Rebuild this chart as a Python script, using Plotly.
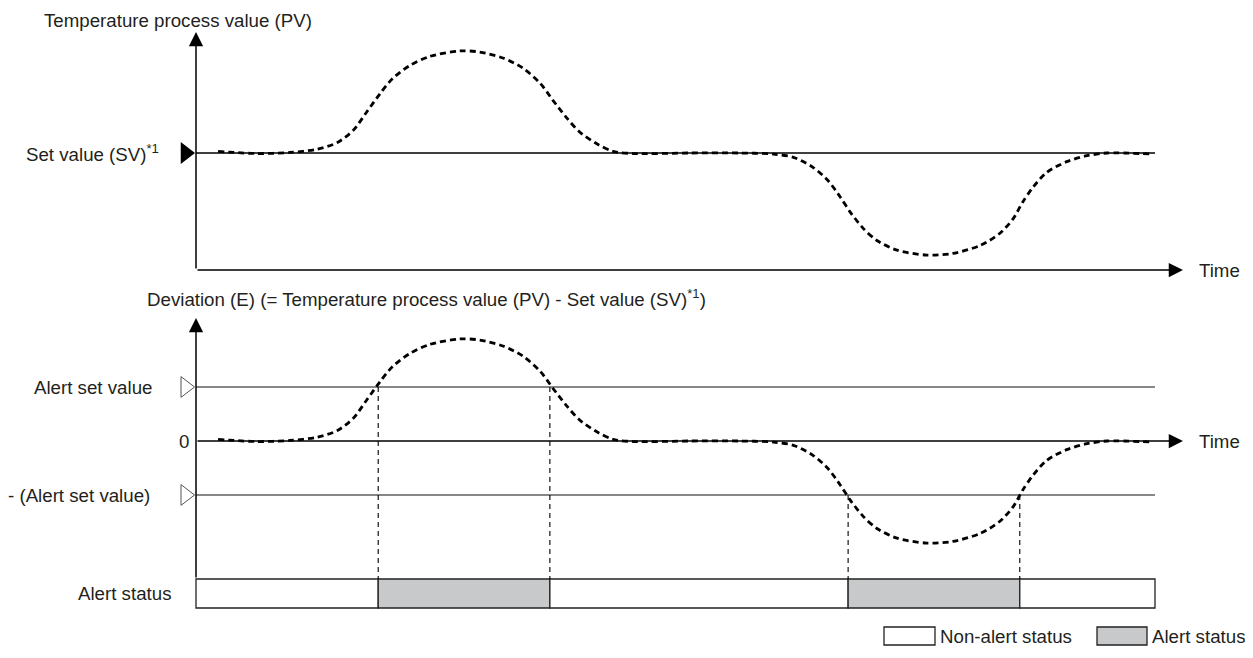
import plotly.graph_objects as go

# -----------------------------
# Data
# -----------------------------
time_end = 100  # horizontal lines end here (arbitrary time units)

# deviation E = PV - SV, in units of the alert set value
time = [2.3, 6.4, 9.8, 12.6, 14.7, 16.4, 17.8, 19.2, 20.5, 22.3,
        24.4, 27.5, 29.6, 32.0, 34.1, 35.9, 37.2, 38.7, 40.0, 41.8,
        43.5, 45.6, 51.5, 56.7, 60.2, 62.3, 64.3, 65.9, 67.2, 68.2,
        69.6, 71.0, 73.1, 76.2, 78.9, 81.8, 83.8, 85.2, 86.2, 87.3,
        88.7, 90.8, 92.9, 95.0, 99.8]
deviation = [0.03, -0.01, 0.01, 0.07, 0.19, 0.42, 0.76, 1.10, 1.38, 1.62,
             1.79, 1.89, 1.87, 1.76, 1.57, 1.29, 0.98, 0.64, 0.39, 0.17,
             0.03, -0.01, 0.0, 0.0, -0.02, -0.08, -0.26, -0.51, -0.82, -1.09,
             -1.40, -1.62, -1.80, -1.89, -1.86, -1.71, -1.49, -1.22, -0.91, -0.63,
             -0.36, -0.16, -0.05, 0.0, -0.02]

set_value = 0.0
alert_set_value = 1.0

# alert periods: start, end and which threshold was crossed
alert_on = [19.0, 68.0]
alert_off = [36.9, 85.9]
alert_side = [1, -1]

pv = [set_value + d for d in deviation]

# -----------------------------
# Geometry helpers (page has an 8px body margin)
# -----------------------------
OFF = 8
W, H = 1253 - OFF, 658 - OFF
FONT = dict(family="Liberation Sans, Arial, sans-serif", size=18.7, color="#231f20")
GRAY = "#c8c9ca"

def px(x):
    return (x - OFF) / W

def py(y):
    return 1 - (y - OFF) / H

x_per_px = time_end / (1155 - 196)
x_min = -24 * x_per_px          # room for the triangle markers left of the axis
x_max = (1183 - 196) * x_per_px
mark_x = -10.5 * x_per_px
u = 54.0  # pixels per unit of deviation

top_range = [set_value - 117 / u, set_value + 121 / u]
bot_range = [-(615 - 441) / u, (441 - 318) / u]
status_top = -(579 - 441) / u
status_bot = -(608 - 441) / u

fig = go.Figure()

# set value line + PV curve (top panel)
fig.add_trace(go.Scatter(x=[0, time_end], y=[set_value, set_value], mode="lines",
                         line=dict(color="black", width=1.3), yaxis="y"))
fig.add_trace(go.Scatter(x=time, y=pv, mode="lines", yaxis="y",
                         line=dict(color="black", width=2.8, dash="6px,4px",
                                   shape="spline", smoothing=0.8)))
fig.add_trace(go.Scatter(x=[mark_x], y=[set_value], mode="markers", yaxis="y",
                         cliponaxis=False,
                         marker=dict(symbol="triangle-right", size=19, color="black")))

# alert lines (bottom panel)
for lvl in [alert_set_value, -alert_set_value]:
    fig.add_trace(go.Scatter(x=[0, time_end], y=[lvl, lvl], mode="lines", yaxis="y2",
                             line=dict(color="#111111", width=1.1)))
fig.add_trace(go.Scatter(x=[mark_x, mark_x], y=[alert_set_value, -alert_set_value],
                         mode="markers", yaxis="y2", cliponaxis=False,
                         marker=dict(symbol="triangle-right-open", size=18,
                                     color="#555555", line=dict(width=1))))

# drop lines from the crossings to the status bar
for on, off, side in zip(alert_on, alert_off, alert_side):
    for t in (on, off):
        fig.add_trace(go.Scatter(x=[t, t], y=[side * alert_set_value, status_top],
                                 mode="lines", yaxis="y2",
                                 line=dict(color="black", width=1.1, dash="5px,4px")))

fig.add_trace(go.Scatter(x=time, y=deviation, mode="lines", yaxis="y2",
                         line=dict(color="black", width=2.8, dash="6px,4px",
                                   shape="spline", smoothing=0.8)))

# status bar
edges = [0]
states = []
for on, off in zip(alert_on, alert_off):
    edges += [on, off]
    states += [0, 1]
edges.append(time_end)
states.append(0)
starts = edges[:-1]
lengths = [b - a for a, b in zip(edges[:-1], edges[1:])]
fig.add_trace(go.Bar(orientation="h", base=starts, x=lengths,
                     y=[(status_top + status_bot) / 2] * len(starts),
                     width=status_top - status_bot, yaxis="y2", cliponaxis=False,
                     marker=dict(color=[GRAY if s else "white" for s in states],
                                 line=dict(color="#222222", width=1.3))))

# -----------------------------
# Axes arrows and labels
# -----------------------------
arrow = dict(showarrow=True, arrowhead=2, arrowsize=1.9, arrowwidth=1.5,
             arrowcolor="black", text="", standoff=0, axref="x")
annotations = [
    dict(x=0, y=top_range[1], ax=0, ay=top_range[0], xref="x", yref="y", ayref="y", **arrow),
    dict(x=x_max, y=top_range[0], ax=0, ay=top_range[0], xref="x", yref="y", ayref="y", **arrow),
    dict(x=0, y=bot_range[1], ax=0, ay=status_top, xref="x", yref="y2", ayref="y2", **arrow),
    dict(x=x_max, y=0, ax=0, ay=0, xref="x", yref="y2", ayref="y2", **arrow),
]

def label(text, x, y, yref="paper", xanchor="right", yanchor="middle"):
    return dict(text=text, x=x, y=y, xref="paper", yref=yref, xanchor=xanchor,
                yanchor=yanchor, showarrow=False, font=FONT)

annotations += [
    label("Temperature process value (PV)", px(178), 1, xanchor="center", yanchor="top"),
    label("Set value (SV)<sup>*1</sup>", px(161), set_value, yref="y"),
    label("Time", px(1197), top_range[0], yref="y", xanchor="left"),
    label("Deviation (E) (= Temperature process value (PV) - Set value (SV)<sup>*1</sup>)",
          px(145), py(298), xanchor="left"),
    label("Alert set value", px(154), alert_set_value, yref="y2"),
    label("0", px(191), 0, yref="y2"),
    label("- (Alert set value)", px(152), -alert_set_value, yref="y2"),
    label("Time", px(1197), 0, yref="y2", xanchor="left"),
    label("Alert status", px(173), (status_top + status_bot) / 2, yref="y2"),
    label("Non-alert status", px(938), py(636), xanchor="left"),
    label("Alert status", px(1150), py(636), xanchor="left"),
]

shapes = [
    dict(type="rect", xref="paper", yref="paper", x0=px(884), x1=px(935),
         y0=py(645), y1=py(627), fillcolor="white", line=dict(color="#222222", width=1.3)),
    dict(type="rect", xref="paper", yref="paper", x0=px(1097), x1=px(1147),
         y0=py(645), y1=py(627), fillcolor=GRAY, line=dict(color="#222222", width=1.3)),
]

fig.update_layout(
    width=W, height=H,
    margin=dict(l=0, r=0, t=0, b=0),
    paper_bgcolor="white", plot_bgcolor="white",
    showlegend=False, barmode="overlay",
    xaxis=dict(domain=[px(172), px(1183)], range=[x_min, x_max], visible=False),
    yaxis=dict(domain=[py(270), py(32)], range=top_range, visible=False),
    yaxis2=dict(domain=[py(615), py(318)], range=bot_range, visible=False, anchor="x"),
    annotations=annotations, shapes=shapes,
)

fig.write_html("out.html")
